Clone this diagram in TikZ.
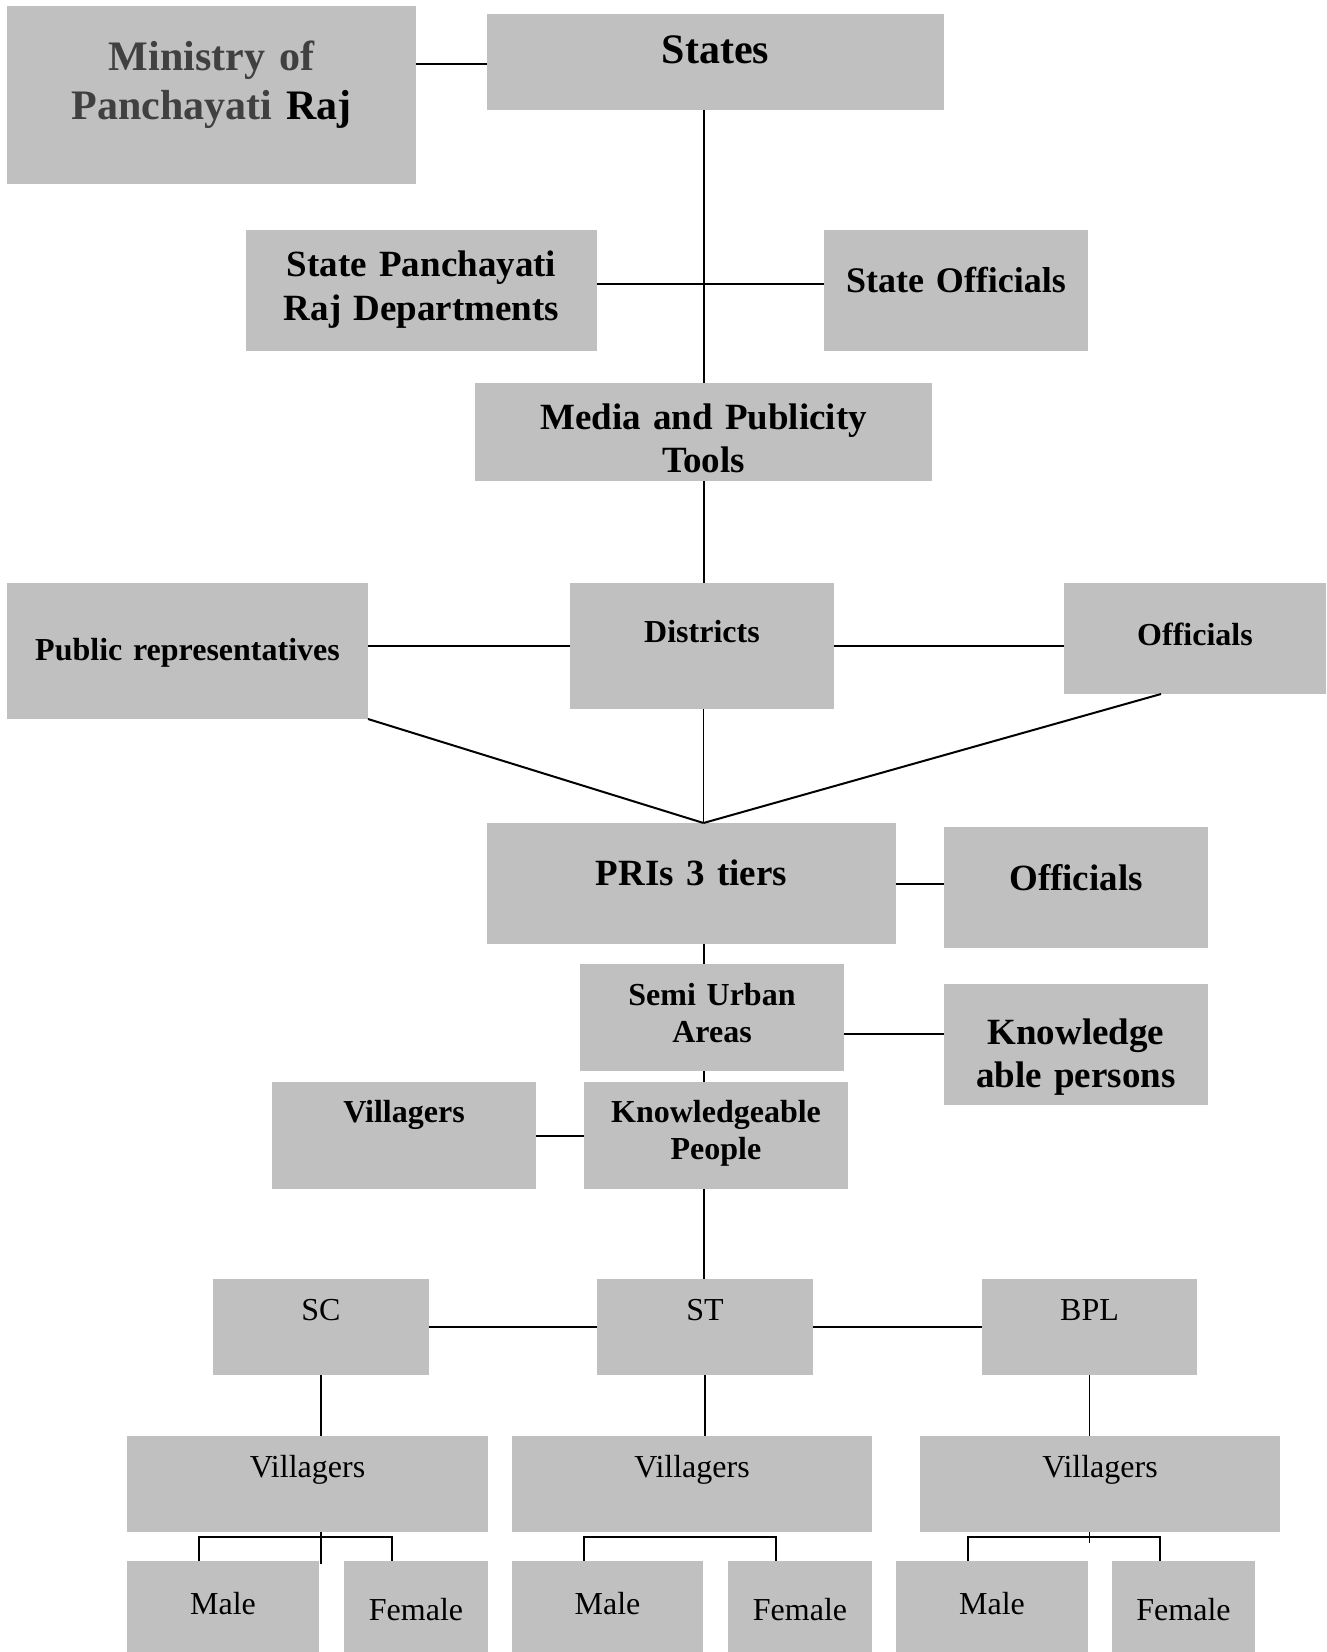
\documentclass[tikz,border=0pt]{standalone}
\usepackage{fontspec}
\setmainfont{Liberation Serif}
\definecolor{boxgray}{HTML}{C0C0C0}
\definecolor{mingray}{HTML}{404040}
\newcommand\fs[2]{\fontsize{#1}{#2}\selectfont}
\newcommand\gbox[5]{\node[gbox, minimum width={#4-#2}, minimum height={#5-#3}] (#1) at (#2,#3) {};}
\begin{document}
\begin{tikzpicture}[x=1pt,y=-1pt,
  gbox/.style={fill=boxgray, draw=none, inner sep=0pt, outer sep=0pt, anchor=north west},
  lbl/.style={inner sep=0pt, anchor=base, text width=420pt, align=center},
  conn/.style={line width=2pt, black},
  thin/.style={line width=1.6pt, black}]
\fill[white] (0,0) rectangle (1326,1652);
\useasboundingbox (0,0) rectangle (1326,1652);
% boxes
\gbox{ministry}{7}{6}{416}{184}
\gbox{states}{487}{14}{944}{110}
\gbox{sprd}{246}{230}{597}{351}
\gbox{stoff}{824}{230}{1088}{351}
\gbox{media}{475}{383}{932}{481}
\gbox{pubrep}{7}{583}{368}{719}
\gbox{dist}{570}{583}{834}{709}
\gbox{offr}{1064}{583}{1326}{694}
\gbox{pris}{487}{823}{896}{944}
\gbox{offtwo}{944}{827}{1208}{948}
\gbox{semi}{580}{964}{844}{1071}
\gbox{knowp}{944}{984}{1208}{1105}
\gbox{kp}{584}{1082}{848}{1189}
\gbox{villb}{272}{1082}{536}{1189}
\gbox{sc}{213}{1279}{429}{1375}
\gbox{st}{597}{1279}{813}{1375}
\gbox{bpl}{982}{1279}{1197}{1375}
\gbox{va}{127}{1436}{488}{1532}
\gbox{vb}{512}{1436}{872}{1532}
\gbox{vc}{920}{1436}{1280}{1532}
\gbox{ma}{127}{1561}{319}{1652}
\gbox{fa}{344}{1561}{488}{1652}
\gbox{mb}{512}{1561}{703}{1652}
\gbox{fb}{728}{1561}{872}{1652}
\gbox{mc}{896}{1561}{1088}{1652}
\gbox{fc}{1112}{1561}{1255}{1652}
% texts
\node[lbl, font=\bfseries\fs{42}{49.5}] (ministry-t) at (ministry.center |- 0,70) {\textcolor{mingray}{Ministry of}\\\textcolor{mingray}{Panchayati} Raj};
\node[lbl, font=\bfseries\fs{42}{49.5}] (states-t) at (states.center |- 0,63) {States};
\node[lbl, font=\bfseries\fs{37}{44}] (sprd-t) at (sprd.center |- 0,276) {State Panchayati\\Raj Departments};
\node[lbl, font=\bfseries\fs{36}{43}] (stoff-t) at (stoff.center |- 0,292) {State Officials};
\node[lbl, font=\bfseries\fs{37}{43}] (media-t) at (media.center |- 0,429) {Media and Publicity\\Tools};
\node[lbl, font=\bfseries\fs{32}{37}] (pubrep-t) at (pubrep.center |- 0,660) {Public representatives};
\node[lbl, font=\bfseries\fs{32}{37}] (dist-t) at (dist.center |- 0,642) {Districts};
\node[lbl, font=\bfseries\fs{32}{37}] (offr-t) at (offr.center |- 0,645) {Officials};
\node[lbl, font=\bfseries\fs{37}{43}] (pris-t) at (pris.center |- 0,885) {PRIs 3 tiers};
\node[lbl, font=\bfseries\fs{37}{43}] (offtwo-t) at (offtwo.center |- 0,890) {Officials};
\node[lbl, font=\bfseries\fs{32}{37}] (semi-t) at (semi.center |- 0,1005) {Semi Urban\\Areas};
\node[lbl, font=\bfseries\fs{37}{43}] (knowp-t) at (knowp.center |- 0,1044) {Knowledge\\able persons};
\node[lbl, font=\bfseries\fs{32}{37}] (kp-t) at (kp.center |- 0,1122) {Knowledgeable\\People};
\node[lbl, font=\bfseries\fs{32}{37}] (villb-t) at (villb.center |- 0,1122) {Villagers};
\node[lbl, font=\fs{32}{37}] (sc-t) at (sc.center |- 0,1320) {SC};
\node[lbl, font=\fs{32}{37}] (st-t) at (st.center |- 0,1320) {ST};
\node[lbl, font=\fs{32}{37}] (bpl-t) at (bpl.center |- 0,1320) {BPL};
\node[lbl, font=\fs{32}{37}] (va-t) at (va.center |- 0,1477) {Villagers};
\node[lbl, font=\fs{32}{37}] (vb-t) at (vb.center |- 0,1477) {Villagers};
\node[lbl, font=\fs{32}{37}] (vc-t) at (vc.center |- 0,1477) {Villagers};
\node[lbl, font=\fs{32}{37}] (ma-t) at (ma.center |- 0,1614) {Male};
\node[lbl, font=\fs{32}{37}] (fa-t) at (fa.center |- 0,1620) {Female};
\node[lbl, font=\fs{32}{37}] (mb-t) at (mb.center |- 0,1614) {Male};
\node[lbl, font=\fs{32}{37}] (fb-t) at (fb.center |- 0,1620) {Female};
\node[lbl, font=\fs{32}{37}] (mc-t) at (mc.center |- 0,1614) {Male};
\node[lbl, font=\fs{32}{37}] (fc-t) at (fc.center |- 0,1620) {Female};
% junction coordinates
\coordinate (jtop) at (703.5,64);
\coordinate (jstate) at (703.5,284);
\coordinate (jdist) at (703.5,646);
\coordinate (meet) at (703.5,823);
\coordinate (offfoot) at (1161,694);
\coordinate (jsemi) at (703.5,1034);
\coordinate (sa) at (199,1537);
\coordinate (sb) at (584,1537);
\coordinate (sc2) at (968,1537);
\coordinate (ea) at (392,1537);
\coordinate (eb) at (776,1537);
\coordinate (ec) at (1160,1537);
% connectors
\draw[conn] (ministry.east |- jtop) -- (states.west |- jtop);
\draw[conn] (media.north |- states.south) -- (media.north);
\draw[conn] (sprd.east |- jstate) -- (stoff.west |- jstate);
\draw[conn] (media.south) -- (media.south |- dist.north);
\draw[conn] (pubrep.east |- jdist) -- (dist.west |- jdist);
\draw[conn] (dist.east |- jdist) -- (offr.west |- jdist);
\draw[thin] (meet |- dist.south) -- (meet);
\draw[conn] (pubrep.south east) -- (meet);
\draw[conn] (offfoot) -- (meet);
\draw[conn] (pris.east) -- (pris.east -| offtwo.west);
\draw[conn] (meet |- pris.south) -- (meet |- semi.north);
\draw[conn] (semi.east |- jsemi) -- (knowp.west |- jsemi);
\draw[conn] (meet |- semi.south) -- (meet |- kp.north);
\draw[conn] (villb.east) -- (villb.east -| kp.west);
\draw[conn] (meet |- kp.south) -- (st.north -| meet);
\draw[conn] (sc.east) -- (sc.east -| st.west);
\draw[conn] (st.east) -- (st.east -| bpl.west);
\draw[thin] (sc.south) -- (sc.south |- va.north);
\draw[thin] (st.south) -- (st.south |- vb.north);
\draw[thin] (bpl.south) -- (bpl.south |- vc.north);
\draw[thin] (sc.south |- va.south) -- (sc.south |- 0,1564);
\draw[thin] (bpl.south |- vc.south) -- (bpl.south |- 0,1543);
\draw[conn] (sa |- ma.north) -- (sa) -- (ea) -- (ea |- fa.north);
\draw[conn] (sb |- mb.north) -- (sb) -- (eb) -- (eb |- fb.north);
\draw[conn] (sc2 |- mc.north) -- (sc2) -- (ec) -- (ec |- fc.north);
\end{tikzpicture}
\end{document}
